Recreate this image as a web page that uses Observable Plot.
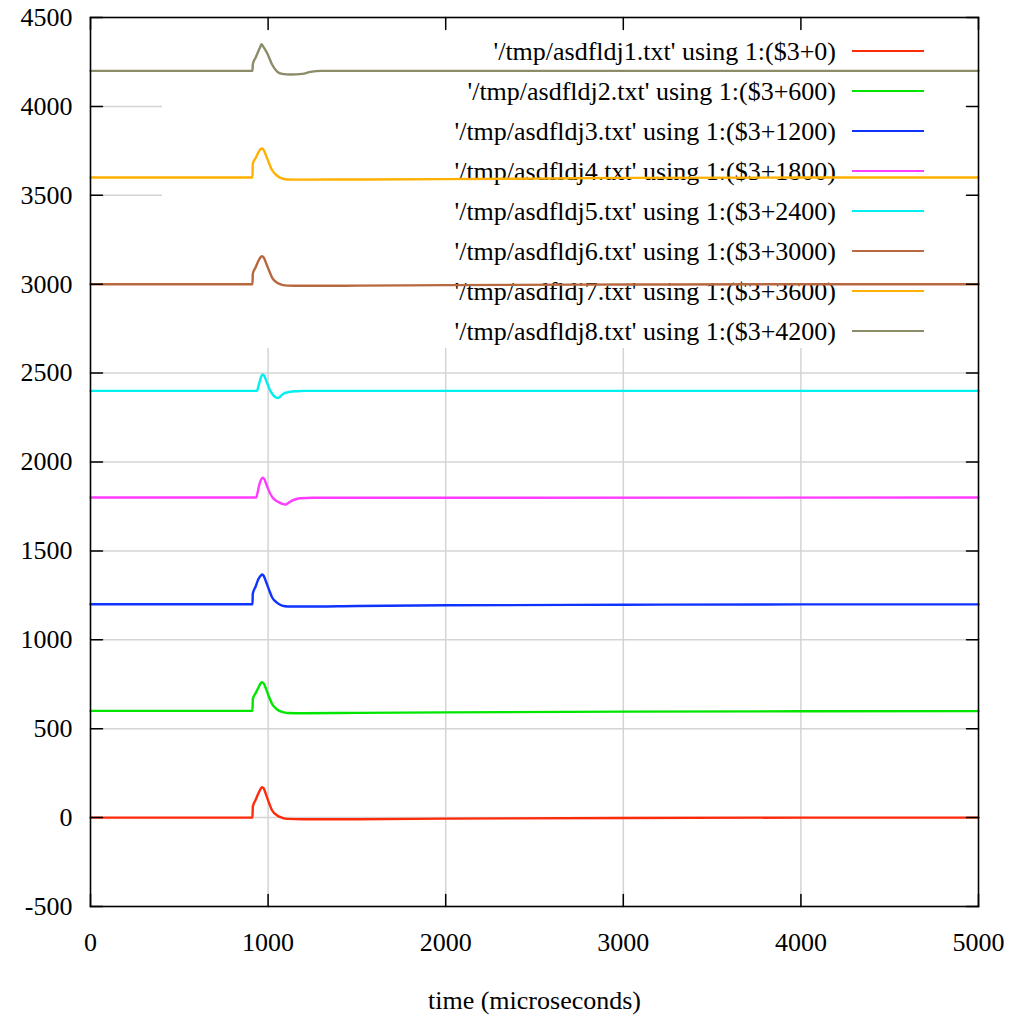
<!DOCTYPE html>
<html><head><meta charset="utf-8">
<script src="https://cdn.jsdelivr.net/npm/d3@7"></script>
<script src="https://cdn.jsdelivr.net/npm/@observablehq/plot@0.6"></script>
<style>body{margin:0;background:#fff}</style>
</head><body><div id="chart"></div>
<script>
// ---- data ----
const xTicks = [0, 1000, 2000, 3000, 4000, 5000];
const yTicks = [-500, 0, 500, 1000, 1500, 2000, 2500, 3000, 3500, 4000, 4500];
const xLabel = "time (microseconds)";
const seriesNames = [
  "'/tmp/asdfldj1.txt' using 1:($3+0)",
  "'/tmp/asdfldj2.txt' using 1:($3+600)",
  "'/tmp/asdfldj3.txt' using 1:($3+1200)",
  "'/tmp/asdfldj4.txt' using 1:($3+1800)",
  "'/tmp/asdfldj5.txt' using 1:($3+2400)",
  "'/tmp/asdfldj6.txt' using 1:($3+3000)",
  "'/tmp/asdfldj7.txt' using 1:($3+3600)",
  "'/tmp/asdfldj8.txt' using 1:($3+4200)"
];
const offsets = [0, 600, 1200, 1800, 2400, 3000, 3600, 4200];
const colors = ["#ff2a0a", "#00e600", "#0f33ff", "#ff3cff", "#00f0f0", "#b8683f", "#ffb000", "#8c8c68"];

// time samples and $3 values per series
const t1 = [0, 912, 914, 930, 945, 958, 966, 975, 990, 1004, 1023, 1051, 1079, 1110, 1200, 1500, 2000, 3000, 4000, 5000];
const v1 = [0, 0, 62, 100, 135, 162, 171, 165, 125, 86, 40, 12, -1, -7, -9, -9, -6, -2, 0, 0];
const t2 = [0, 912, 914, 930, 945, 958, 966, 975, 990, 1004, 1023, 1051, 1079, 1110, 1200, 1500, 2000, 3000, 4000, 5000];
const v2 = [0, 0, 68, 100, 130, 155, 161, 155, 120, 82, 38, 8, -6, -12, -13, -11, -8, -4, -2, -1];
const t3 = [0, 912, 914, 930, 945, 958, 966, 975, 990, 1004, 1023, 1051, 1079, 1110, 1200, 1500, 2000, 3000, 4000, 5000];
const v3 = [0, 0, 60, 100, 140, 160, 167, 160, 122, 85, 38, 8, -8, -13, -13, -10, -6, -3, -1, -1];
const t4 = [0, 933, 940, 950, 960, 970, 978, 990, 1004, 1025, 1045, 1060, 1080, 1098, 1115, 1135, 1160, 1182, 1250, 5000];
const v4 = [0, 0, 25, 70, 100, 112, 105, 75, 39, 0, -18, -26, -35, -39, -30, -17, -8, -4, -1, 0];
const t5 = [0, 938, 945, 955, 963, 970, 978, 990, 1000, 1013, 1030, 1045, 1057, 1070, 1088, 1110, 1126, 1160, 1200, 5000];
const v5 = [0, 0, 25, 60, 85, 92, 85, 55, 30, 0, -25, -37, -40, -30, -15, -8, -5, -2, 0, 0];
const t6 = [0, 912, 914, 930, 945, 958, 966, 975, 990, 1004, 1023, 1051, 1079, 1110, 1200, 1500, 2000, 3000, 4000, 5000];
const v6 = [0, 0, 60, 95, 130, 152, 157, 150, 115, 80, 36, 8, -4, -8, -9, -8, -5, -2, 0, 0];
const t7 = [0, 912, 914, 930, 945, 958, 966, 975, 995, 1023, 1051, 1070, 1107, 1200, 1500, 2000, 2500, 3000, 4000, 5000];
const v7 = [0, 0, 79, 110, 140, 160, 163, 155, 107, 41, 10, -2, -11, -12, -11, -9, -6, -2, 0, 0];
const t8 = [0, 912, 914, 930, 945, 958, 963, 970, 995, 1023, 1051, 1079, 1126, 1192, 1239, 1295, 2000, 5000];
const v8 = [0, 0, 37, 75, 110, 140, 150, 140, 99, 34, -4, -17, -21, -17, -6, 0, 0, 0];

const times = [t1, t2, t3, t4, t5, t6, t7, t8];
const values = [v1, v2, v3, v4, v5, v6, v7, v8];

// ---- chart ----
const W = 1010, H = 1017;
const mL = 90, mR = 32, mT = 17, mB = 111;
const font = "Liberation Serif, Times New Roman, serif";
const fontPx = 26;
const tickLen = 12;
const tickShape = {draw(context, l) { context.moveTo(0, 0); context.lineTo(0, -l); }};

const rows = times.map((ts, i) => ts.map((t, j) => ({series: i, t, v: values[i][j] + offsets[i]})));

function legend(index, scales, vals, dims) {
  const g = d3.create("svg:g");
  const right = dims.width - dims.marginRight;
  // opaque key area (hides grid behind it, as in the reference)
  g.append("rect")
    .attr("x", 162).attr("y", dims.marginTop)
    .attr("width", right - 162).attr("height", 348 - dims.marginTop)
    .attr("fill", "white");
  seriesNames.forEach((name, i) => {
    const cy = 51 + 40 * i;
    g.append("text")
      .attr("x", 836).attr("y", cy).attr("dy", "0.33em")
      .attr("text-anchor", "end").attr("fill", "black")
      .attr("font-family", font).attr("font-size", fontPx)
      .text(name);
    g.append("line")
      .attr("x1", 852).attr("x2", 924).attr("y1", cy).attr("y2", cy)
      .attr("stroke", colors[i]).attr("stroke-width", 2);
  });
  return g.node();
}

const marks = [
  Plot.ruleX(xTicks.slice(1, -1), {stroke: "#d4d4d4", strokeWidth: 1.5}),
  Plot.ruleY(yTicks.slice(1, -1), {stroke: "#d4d4d4", strokeWidth: 1.5}),
  legend,
  ...rows.map((r, i) => Plot.line(r, {x: "t", y: "v", stroke: colors[i], strokeWidth: 2.4, curve: "monotone-x"})),
  Plot.frame({stroke: "black", strokeWidth: 1.6}),
  // inward mirror ticks on all four sides
  Plot.vector(yTicks, {x: xTicks[0], y: d => d, length: tickLen, rotate: 90, anchor: "start", shape: tickShape, stroke: "black", strokeWidth: 1.5}),
  Plot.vector(yTicks, {x: xTicks[xTicks.length - 1], y: d => d, length: tickLen, rotate: -90, anchor: "start", shape: tickShape, stroke: "black", strokeWidth: 1.5}),
  Plot.vector(xTicks, {x: d => d, y: yTicks[0], length: tickLen, rotate: 0, anchor: "start", shape: tickShape, stroke: "black", strokeWidth: 1.5}),
  Plot.vector(xTicks, {x: d => d, y: yTicks[yTicks.length - 1], length: tickLen, rotate: 180, anchor: "start", shape: tickShape, stroke: "black", strokeWidth: 1.5}),
  Plot.axisY(yTicks, {tickSize: 0, tickPadding: 18, label: null, fill: "black", tickFormat: d => String(d)}),
  Plot.axisX(xTicks, {tickSize: 0, tickPadding: 26, label: null, fill: "black", tickFormat: d => String(d)}),
  Plot.text([xLabel], {frameAnchor: "bottom", dy: 94, text: d => d, lineAnchor: "middle", fill: "black"})
];

const chart = Plot.plot({
  width: W, height: H,
  marginLeft: mL, marginRight: mR, marginTop: mT, marginBottom: mB,
  x: {domain: [0, 5000]},
  y: {domain: [-500, 4500]},
  style: {fontFamily: font, fontSize: fontPx + "px", background: "white", color: "black"},
  marks
});
document.getElementById("chart").appendChild(chart);
</script>
</body></html>
